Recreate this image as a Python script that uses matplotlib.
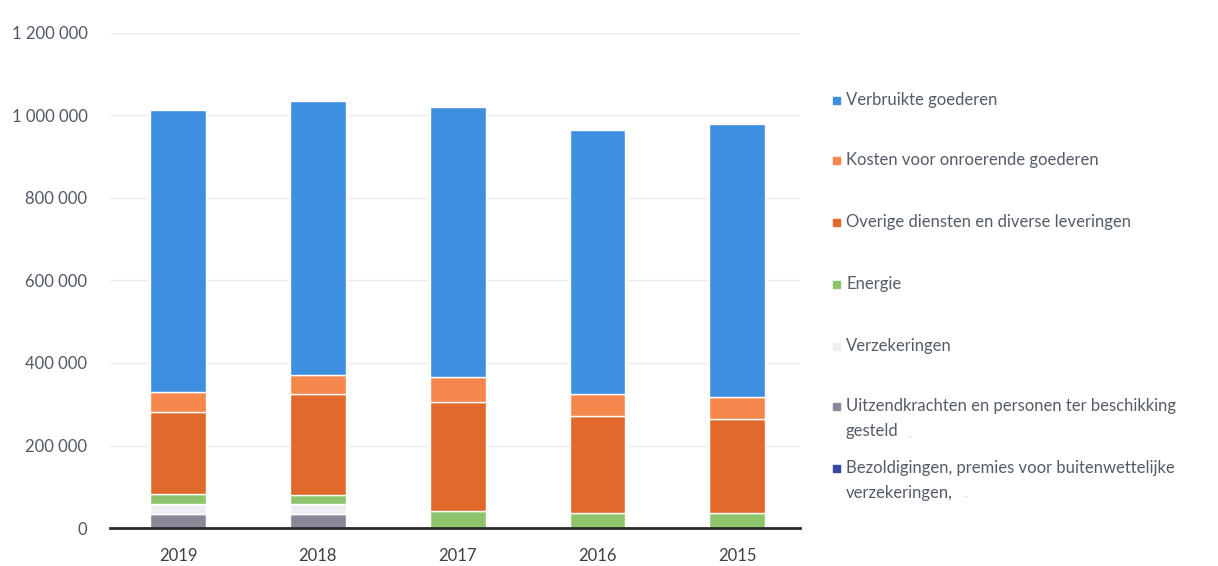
import matplotlib.pyplot as plt
from matplotlib.patches import Rectangle
from matplotlib.ticker import FuncFormatter

plt.rcParams['font.family'] = ['Lato', 'DejaVu Sans']

# data (bottom -> top of each stack)
years = ['2019', '2018', '2017', '2016', '2015']
bezoldigingen = [0, 0, 0, 0, 0]
uitzendkrachten = [33000, 34000, 0, 0, 0]
verzekeringen = [25000, 24000, 0, 0, 0]
energie = [25000, 22000, 42000, 36000, 36000]
overige = [198000, 244000, 263000, 235000, 228000]
kosten = [48000, 46000, 61000, 53000, 53000]
verbruikte = [684000, 665000, 655000, 640000, 662000]

series = [
    ('Bezoldigingen, premies voor buitenwettelijke\nverzekeringen,', bezoldigingen, '#33499e'),
    ('Uitzendkrachten en personen ter beschikking\ngesteld', uitzendkrachten, '#8b8698'),
    ('Verzekeringen', verzekeringen, '#eceef3'),
    ('Energie', energie, '#8dc46c'),
    ('Overige diensten en diverse leveringen', overige, '#e2692c'),
    ('Kosten voor onroerende goederen', kosten, '#f5864c'),
    ('Verbruikte goederen', verbruikte, '#3f8fe0'),
]

fig = plt.figure(figsize=(12.18, 5.66), dpi=100)
ax = fig.add_axes([0.090, 0.067, 0.567, 0.875])

x = list(range(len(years)))
bottom = [0] * len(years)
for name, vals, col in series:
    ax.bar(x, vals, 0.4, bottom=bottom, color=col, edgecolor='white', linewidth=1.0)
    bottom = [b + v for b, v in zip(bottom, vals)]

ax.set_ylim(0, 1200000)
ax.set_xlim(-0.49, 4.45)
ax.set_yticks(range(0, 1200001, 200000))
ax.yaxis.set_major_formatter(FuncFormatter(lambda v, p: f'{int(v):,}'.replace(',', ' ')))
ax.set_xticks(x)
ax.set_xticklabels(years)
ax.tick_params(axis='both', length=0, labelsize=12, colors='#4f5866')
ax.tick_params(axis='x', pad=14, colors='#3c3f45')
ax.tick_params(axis='y', pad=16)
ax.grid(axis='y', color='#ededed', linewidth=1)
ax.set_axisbelow(True)
for s in ['top', 'right', 'left']:
    ax.spines[s].set_visible(False)
ax.spines['bottom'].set_color('#2a2a2a')
ax.spines['bottom'].set_linewidth(2)

# legend on the right, top entry first
W, H = 1218, 566
leg_y = [100, 160, 222, 284, 346, 406, 468]
for (name, vals, col), yy in zip(series[::-1], leg_y):
    fig.patches.append(Rectangle((833 / W, 1 - (yy + 4) / H), 7 / W, 7 / H,
                                 transform=fig.transFigure, color=col))
    for i, line in enumerate(name.split('\n')):
        fig.text(846 / W, 1 - (yy + 25 * i) / H, line, fontsize=12,
                 color='#545c68', va='center', ha='left')

fig.text(906 / W, 1 - 437 / H, '...', fontsize=7, color='#c8c8c8')
fig.text(962 / W, 1 - 497 / H, '...', fontsize=7, color='#c8c8c8')

fig.savefig('out.png', dpi=100)
